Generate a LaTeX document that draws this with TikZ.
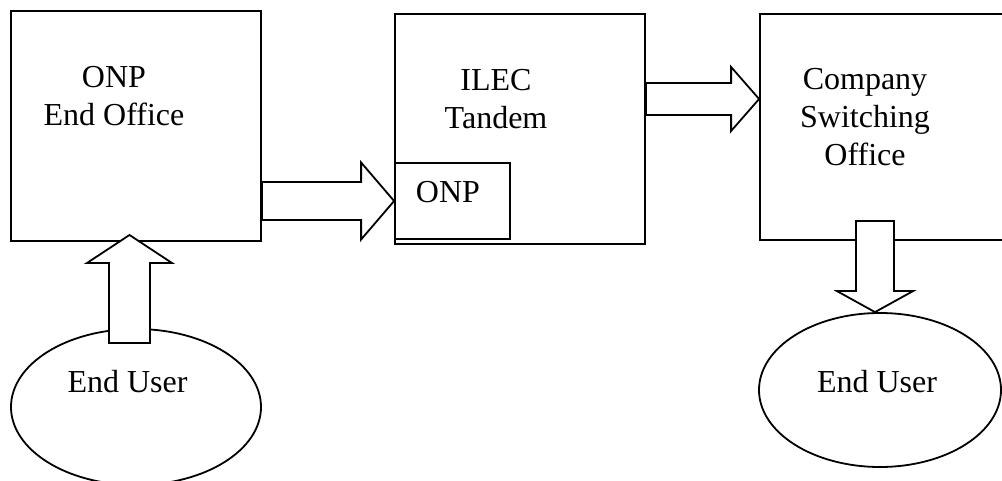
\documentclass[tikz,border=0pt]{standalone}
\usepackage{fontspec}
\setmainfont{Liberation Serif}
\usetikzlibrary{shapes.geometric, calc, positioning}

\tikzset{
  box/.style={draw, line width=1.8pt, minimum width=250pt, minimum height=230pt, inner sep=0pt},
  user/.style={draw, ellipse, line width=1.8pt, inner sep=0pt},
  txt/.style={align=center, font=\fontsize{32}{38}\selectfont, inner sep=0pt},
  barrow/.style={draw, fill=white, line width=1.8pt, line join=miter},
}

% block arrow: from, tip, shaft half width, head half width, head length
\newcommand{\blockarrow}[5]{%
  \coordinate (ab) at ($(#2)!#5!(#1)$);
  \draw[barrow] ($(#1)!#3!90:(#2)$) -- ($(ab)!#3!90:(#2)$) -- ($(ab)!#4!90:(#2)$)
    -- (#2) -- ($(ab)!#4!-90:(#2)$) -- ($(ab)!#3!-90:(#2)$) -- ($(#1)!#3!-90:(#2)$) -- cycle;
}

\begin{document}
\begin{tikzpicture}[x=1pt, y=-1pt]
  \clip (0,0) rectangle (1002,481);
  % Offices
  \node[box] (eo) at (136,126) {};
  \node[box] (tandem) at (520,129) {};
  \node[box, minimum width=115pt, minimum height=76pt] (onp) at (452.5,201) {};
  \node[box, minimum height=226pt] (cso) at (885,127) {};
  % End users
  \node[user, minimum width=250pt, minimum height=156pt] (eu1) at (136,407) {};
  \node[user, minimum width=242pt, minimum height=154pt] (eu2) at (880,390) {};
  % Labels
  \node[txt] (eo-lbl) at (114,96) {ONP\\End Office};
  \node[txt] (tandem-lbl) at (496,99) {ILEC\\Tandem};
  \node[txt] (onp-lbl) at (448,192.5) {ONP};
  \node[txt] (cso-lbl) at (865,117) {Company\\Switching\\Office};
  \node[txt] (eu1-lbl) at (127.5,382) {End User};
  \node[txt] (eu2-lbl) at (877,382) {End User};
  % Arrows
  \coordinate (eu1-out) at (129.5,343);
  \coordinate (eo-in) at (129.5,235);
  \coordinate (cso-in) at (cso.west |- 0,99);
  \coordinate (cso-out) at (875,221);
  \blockarrow{eo.east |- onp.west}{onp.west}{19pt}{38.5pt}{33pt}
  \blockarrow{tandem.east |- cso-in}{cso-in}{16pt}{32pt}{28pt}
  \blockarrow{eu1-out}{eo-in}{20.5pt}{42.5pt}{28pt}
  \blockarrow{cso-out}{eu2.north -| cso-out}{19pt}{38pt}{21pt}
\end{tikzpicture}
\end{document}
